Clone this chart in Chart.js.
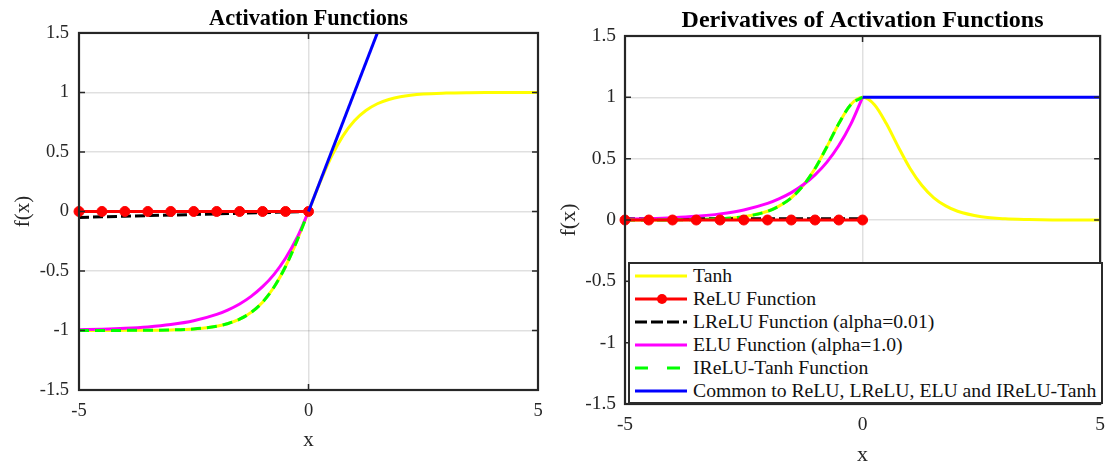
<!DOCTYPE html>
<html>
<head>
<meta charset="utf-8">
<script src="https://cdn.jsdelivr.net/npm/chart.js@4.4.1/dist/chart.umd.min.js"></script>
<style>
body { margin: 0; background: #fff; }
#wrap { position: relative; width: 1114px; height: 465px; overflow: hidden; }
#c1 { position: absolute; left: 0; top: 0; }
#c2 { position: absolute; left: 555px; top: 0; }
#legend {
    position: absolute; left: 628px; top: 262px; width: 475px; height: 142px;
    box-sizing: border-box; border: 2px solid #2b2b2b; background: #fff;
    font-family: 'Liberation Serif', 'Times New Roman', serif; font-size: 19.7px; color: #111;
}
#legend .row { height: 23px; display: flex; align-items: center; padding-left: 5px; white-space: nowrap; }
#legend svg { margin-right: 6px; flex: none; }
</style>
</head>
<body>
<div id="wrap">
    <canvas id="c1" width="557" height="465"></canvas>
    <canvas id="c2" width="559" height="465"></canvas>
    <div id="legend"></div>
</div>
<script>
// x positions
const xFine = [-5, -4.5, -4, -3.5, -3, -2.5, -2, -1.75, -1.5, -1.25, -1, -0.75, -0.5, -0.25, 0,
               0.25, 0.5, 0.75, 1, 1.25, 1.5, 1.75, 2, 2.5, 3, 3.5, 4, 4.5, 5];
const xNegFine = [-5, -4.5, -4, -3.5, -3, -2.5, -2, -1.75, -1.5, -1.25, -1, -0.75, -0.5, -0.25, 0];
const xMarks = [-5, -4.5, -4, -3.5, -3, -2.5, -2, -1.5, -1, -0.5, 0];
const xCommonF = [0, 1.5];
const xCommonD = [0, 5];

// left panel: activation functions
const tanhF = [-1, -1, -0.999, -0.998, -0.995, -0.987, -0.964, -0.941, -0.905, -0.848, -0.762, -0.635, -0.462, -0.245, 0,
               0.245, 0.462, 0.635, 0.762, 0.848, 0.905, 0.941, 0.964, 0.987, 0.995, 0.998, 0.999, 1, 1];
const reluF = [0, 0, 0, 0, 0, 0, 0, 0, 0, 0, 0];
const lreluF = [-0.05, -0.045, -0.04, -0.035, -0.03, -0.025, -0.02, -0.015, -0.01, -0.005, 0];
const eluF = [-0.993, -0.989, -0.982, -0.970, -0.950, -0.918, -0.865, -0.826, -0.777, -0.713, -0.632, -0.528, -0.393, -0.221, 0];
const ireluF = [-1, -1, -0.999, -0.998, -0.995, -0.987, -0.964, -0.941, -0.905, -0.848, -0.762, -0.635, -0.462, -0.245, 0];
const commonF = [0, 1.5];

// right panel: derivatives
const tanhD = [0, 0, 0.001, 0.004, 0.010, 0.027, 0.071, 0.115, 0.181, 0.281, 0.420, 0.597, 0.786, 0.940, 1,
               0.940, 0.786, 0.597, 0.420, 0.281, 0.181, 0.115, 0.071, 0.027, 0.010, 0.004, 0.001, 0, 0];
const reluD = [0, 0, 0, 0, 0, 0, 0, 0, 0, 0, 0];
const lreluD = [0.01, 0.01, 0.01, 0.01, 0.01, 0.01, 0.01, 0.01, 0.01, 0.01, 0.01];
const eluD = [0.007, 0.011, 0.018, 0.030, 0.050, 0.082, 0.135, 0.174, 0.223, 0.287, 0.368, 0.472, 0.607, 0.779, 1];
const ireluD = [0, 0, 0.001, 0.004, 0.010, 0.027, 0.071, 0.115, 0.181, 0.281, 0.420, 0.597, 0.786, 0.940, 1];
const commonD = [1, 1];

const labels = ['Tanh', 'ReLU Function', 'LReLU Function (alpha=0.01)', 'ELU Function (alpha=1.0)',
                'IReLU-Tanh Function', 'Common to ReLU, LReLU, ELU and IReLU-Tanh'];

const SERIF = "'Liberation Serif', 'Times New Roman', serif";
const INK = '#262626';
const GRID = 'rgba(0, 0, 0, 0.12)';

function pts(xs, ys) {
    return xs.map((x, i) => ({ x: x, y: ys[i] }));
}

function buildDatasets(s) {
    return [
        { label: labels[0], data: pts(xFine, s.tanh), borderColor: '#ffff00', order: 6,
          cubicInterpolationMode: 'monotone' },
        { label: labels[1], data: pts(xMarks, s.relu), borderColor: '#ff0000', order: 1.5,
          pointRadius: 5, pointBackgroundColor: '#ff0000', pointBorderColor: '#ff0000', pointBorderWidth: 1, clip: 8 },
        { label: labels[2], data: pts(xMarks, s.lrelu), borderColor: '#000000', borderDash: [10, 4], order: 4,
          legendDash: '12 4' },
        { label: labels[3], data: pts(xNegFine, s.elu), borderColor: '#ff00ff', order: 3,
          cubicInterpolationMode: 'monotone' },
        { label: labels[4], data: pts(xNegFine, s.irelu), borderColor: '#00ff00', borderDash: [10, 6], order: 2,
          cubicInterpolationMode: 'monotone', legendDash: '13 19' },
        { label: labels[5], data: pts(s.commonX, s.common), borderColor: '#0000ff', order: 1 }
    ];
}

// black frame with inward tick marks, like the original plots
const framePlugin = {
    id: 'frame',
    afterDatasetsDraw(chart) {
        const { ctx, chartArea: a, scales: { x, y } } = chart;
        ctx.save();
        ctx.strokeStyle = INK;
        ctx.lineWidth = 1.5;
        ctx.beginPath();
        y.ticks.forEach(t => {
            const p = y.getPixelForValue(t.value);
            ctx.moveTo(a.left, p); ctx.lineTo(a.left + 6, p);
            ctx.moveTo(a.right, p); ctx.lineTo(a.right - 6, p);
        });
        x.ticks.forEach(t => {
            const p = x.getPixelForValue(t.value);
            ctx.moveTo(p, a.bottom); ctx.lineTo(p, a.bottom - 6);
            ctx.moveTo(p, a.top); ctx.lineTo(p, a.top + 6);
        });
        ctx.stroke();
        ctx.lineWidth = 2.2;
        ctx.strokeRect(a.left, a.top, a.right - a.left, a.bottom - a.top);
        ctx.restore();
    }
};

function makeChart(id, title, datasets, box) {
    return new Chart(document.getElementById(id), {
        type: 'line',
        data: { datasets: datasets },
        options: {
            responsive: false,
            animation: false,
            events: [],
            layout: { padding: { left: 0, right: box.right, top: 0, bottom: 0 } },
            elements: {
                line: { borderWidth: 3, fill: false, tension: 0 },
                point: { radius: 0 }
            },
            plugins: {
                legend: { display: false },
                tooltip: { enabled: false },
                title: {
                    display: true,
                    text: title,
                    fullSize: false,
                    color: '#000',
                    font: { family: SERIF, size: box.titleSize, weight: 'bold', lineHeight: 1.2 },
                    padding: { top: box.titleTop, bottom: box.titleBottom }
                }
            },
            scales: {
                x: {
                    type: 'linear',
                    min: -5,
                    max: 5,
                    ticks: { stepSize: 5, padding: box.tickPad, color: INK,
                             font: { family: SERIF, size: box.tickSize },
                             callback: function(value) { return String(value); } },
                    grid: { color: GRID, lineWidth: 1.5, drawTicks: false },
                    border: { display: false },
                    title: { display: true, text: 'x', color: INK,
                             font: { family: SERIF, size: box.labelSize, lineHeight: 1.2 },
                             padding: { top: 0, bottom: box.xTitlePad } },
                    afterFit: function(s) { s.height = box.xHeight; }
                },
                y: {
                    min: -1.5,
                    max: 1.5,
                    ticks: { stepSize: 0.5, padding: box.tickPad, color: INK,
                             font: { family: SERIF, size: box.tickSize },
                             callback: function(value) { return String(value); } },
                    grid: { color: GRID, lineWidth: 1.5, drawTicks: false },
                    border: { display: false },
                    title: { display: true, text: 'f(x)', color: INK,
                             font: { family: SERIF, size: box.labelSize, lineHeight: 1.2 },
                             padding: { top: box.yTitlePad, bottom: 0 } },
                    afterFit: function(s) { s.width = box.yWidth; }
                }
            }
        },
        plugins: [framePlugin]
    });
}

makeChart('c1', 'Activation Functions',
    buildDatasets({ tanh: tanhF, relu: reluF, lrelu: lreluF, elu: eluF, irelu: ireluF, commonX: xCommonF, common: commonF }),
    { right: 19, titleSize: 22.3, titleTop: 6, titleBottom: 0.2, tickSize: 18.5, tickPad: 10, labelSize: 21,
      xTitlePad: 12, xHeight: 75, yTitlePad: 11, yWidth: 79 });

const chart2 = makeChart('c2', 'Derivatives of Activation Functions',
    buildDatasets({ tanh: tanhD, relu: reluD, lrelu: lreluD, elu: eluD, irelu: ireluD, commonX: xCommonD, common: commonD }),
    { right: 9, titleSize: 24, titleTop: 6, titleBottom: 1.2, tickSize: 19.5, tickPad: 9, labelSize: 22,
      xTitlePad: -3, xHeight: 61, yTitlePad: 1, yWidth: 70 });

// legend box inside the right panel, built from that chart's datasets
const legend = document.getElementById('legend');
chart2.data.datasets.forEach(ds => {
    const dash = ds.legendDash ? ` stroke-dasharray="${ds.legendDash}"` : '';
    const dot = ds.pointRadius ? `<circle cx="27" cy="7" r="5" fill="${ds.borderColor}"/>` : '';
    const row = document.createElement('div');
    row.className = 'row';
    row.innerHTML = `<svg width="52" height="14"><line x1="0" y1="7" x2="52" y2="7" stroke="${ds.borderColor}" stroke-width="3"${dash}/>${dot}</svg><span>${ds.label}</span>`;
    legend.appendChild(row);
});
</script>
</body>
</html>
